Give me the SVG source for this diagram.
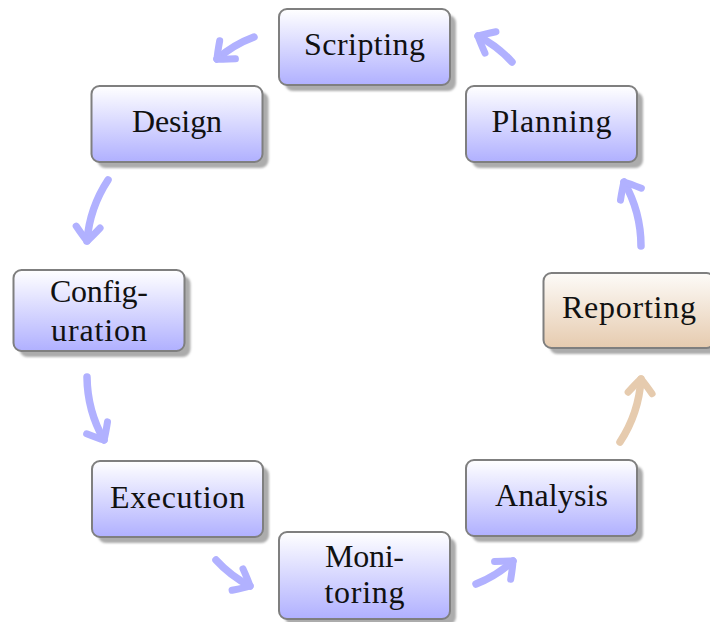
<svg xmlns="http://www.w3.org/2000/svg" width="710" height="622" viewBox="0 0 710 622">
  <style>
    .box { stroke: #7f7f7f; stroke-width: 2; }
    .blue { fill: url(#gBlue); }
    .tan { fill: url(#gTan); }
    .shadow { fill: #acacac; filter: url(#soft); }
    .label { font-family: "Liberation Serif", "Times New Roman", serif; font-size: 32px; fill: #111; text-anchor: middle; }
    .arr { fill: none; stroke-width: 7.5; stroke-linecap: round; }
    .arr.b { stroke: #b1b1ff; marker-end: url(#headB); }
    .arr.t { stroke: #e6cbae; marker-end: url(#headT); }
  </style>
  <defs>
    <linearGradient id="gBlue" x1="0" y1="0" x2="0" y2="1">
      <stop offset="0" stop-color="#ffffff"/>
      <stop offset="1" stop-color="#b0b0ff"/>
    </linearGradient>
    <linearGradient id="gTan" x1="0" y1="0" x2="0" y2="1">
      <stop offset="0" stop-color="#fdfbf8"/>
      <stop offset="1" stop-color="#e6cbaf"/>
    </linearGradient>
    <filter id="soft" x="-10%" y="-10%" width="120%" height="120%">
      <feGaussianBlur stdDeviation="0.8"/>
    </filter>
    <marker id="headB" markerUnits="userSpaceOnUse" orient="auto" viewBox="-20 -18 26 36" refX="0" refY="0" markerWidth="26" markerHeight="36" overflow="visible">
      <path d="M -14 -12 Q -4 -4 0 0 Q -4 4 -14 12" fill="none" stroke="#b1b1ff" stroke-width="7" stroke-linecap="round" stroke-linejoin="round"/>
    </marker>
    <marker id="headT" markerUnits="userSpaceOnUse" orient="auto" viewBox="-20 -18 26 36" refX="0" refY="0" markerWidth="26" markerHeight="36" overflow="visible">
      <path d="M -14 -12 Q -4 -4 0 0 Q -4 4 -14 12" fill="none" stroke="#e6cbae" stroke-width="7" stroke-linecap="round" stroke-linejoin="round"/>
    </marker>
  </defs>

  <!-- cycle connectors, drawn as arcs running counter-clockwise -->
  <g id="connectors">
    <path class="arr b" d="M 254 37 A 120 120 0 0 0 217 59"/>
    <path class="arr b" d="M 108 180 A 130 130 0 0 0 87 241"/>
    <path class="arr b" d="M 87 377 A 130 130 0 0 0 104 440"/>
    <path class="arr b" d="M 216 560 A 120 120 0 0 0 250 586"/>
    <path class="arr b" d="M 476 584 A 120 120 0 0 0 513 561"/>
    <path class="arr t" d="M 620 442 A 130 130 0 0 0 641 379"/>
    <path class="arr b" d="M 641 246 A 130 130 0 0 0 624 182"/>
    <path class="arr b" d="M 512 62 A 120 120 0 0 0 478 36"/>
  </g>

  <g id="scripting">
    <rect class="shadow" x="285" y="15" width="171" height="76" rx="8"/>
    <rect class="box blue" x="279" y="9" width="171" height="76" rx="8"/>
    <text class="label" x="364.5" y="55" textLength="121" lengthAdjust="spacing">Scripting</text>
  </g>

  <g id="design">
    <rect class="shadow" x="97.5" y="92" width="171" height="76" rx="8"/>
    <rect class="box blue" x="91.5" y="86" width="171" height="76" rx="8"/>
    <text class="label" x="177" y="132" textLength="90" lengthAdjust="spacing">Design</text>
  </g>

  <g id="planning">
    <rect class="shadow" x="472" y="92" width="171" height="76" rx="8"/>
    <rect class="box blue" x="466" y="86" width="171" height="76" rx="8"/>
    <text class="label" x="551.5" y="132" textLength="120" lengthAdjust="spacing">Planning</text>
  </g>

  <g id="configuration">
    <rect class="shadow" x="19.5" y="276" width="171" height="81" rx="8"/>
    <rect class="box blue" x="13.5" y="270" width="171" height="81" rx="8"/>
    <text class="label" x="99" y="302" textLength="98" lengthAdjust="spacing">Config-</text>
    <text class="label" x="99" y="341" textLength="96" lengthAdjust="spacing">uration</text>
  </g>

  <g id="reporting">
    <rect class="shadow" x="549.5" y="279" width="171" height="75" rx="8"/>
    <rect class="box tan" x="543.5" y="273" width="171" height="75" rx="8"/>
    <text class="label" x="629" y="318" textLength="134" lengthAdjust="spacing">Reporting</text>
  </g>

  <g id="execution">
    <rect class="shadow" x="98" y="467" width="171" height="76" rx="8"/>
    <rect class="box blue" x="92" y="461" width="171" height="76" rx="8"/>
    <text class="label" x="177.5" y="508" textLength="135" lengthAdjust="spacing">Execution</text>
  </g>

  <g id="monitoring">
    <rect class="shadow" x="285" y="538" width="171" height="87" rx="8"/>
    <rect class="box blue" x="279" y="532" width="171" height="87" rx="8"/>
    <text class="label" x="364.5" y="567" textLength="79" lengthAdjust="spacing">Moni-</text>
    <text class="label" x="364.5" y="603" textLength="80" lengthAdjust="spacing">toring</text>
  </g>

  <g id="analysis">
    <rect class="shadow" x="472" y="466" width="171" height="76" rx="8"/>
    <rect class="box blue" x="466" y="460" width="171" height="76" rx="8"/>
    <text class="label" x="551.5" y="506" textLength="113" lengthAdjust="spacing">Analysis</text>
  </g>
</svg>
